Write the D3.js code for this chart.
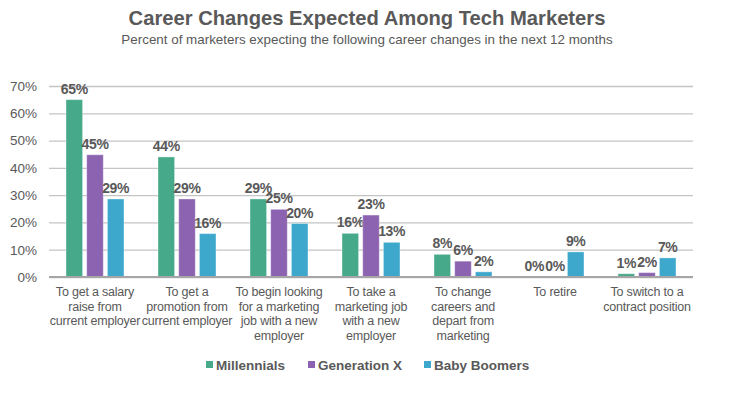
<!DOCTYPE html>
<html><head><meta charset="utf-8">
<script src="https://cdn.jsdelivr.net/npm/d3@7"></script>
<style>body{margin:0;background:#fff;}svg{display:block;font-family:"Liberation Sans",Arial,sans-serif;}</style>
</head><body><svg id="c" width="734" height="394"></svg>
<script>
const categories = [
  ["To get a salary","raise from","current employer"],
  ["To get a","promotion from","current employer"],
  ["To begin looking","for a marketing","job with a new","employer"],
  ["To take a","marketing job","with a new","employer"],
  ["To change","careers and","depart from","marketing"],
  ["To retire"],
  ["To switch to a","contract position"]
];
const seriesNames = ["Millennials","Generation X","Baby Boomers"];
const millennials = [65, 44, 28.6, 16, 8.3, 0, 1.2];
const generationX = [44.8, 28.6, 24.8, 22.7, 5.8, 0, 1.6];
const babyBoomers = [28.6, 15.9, 19.6, 12.7, 1.9, 9.2, 7];
const yTicks = [0,10,20,30,40,50,60,70];
const colors = ["#45a98a","#8b63b0","#3ea8cc"];

(function(){
const seriesValues = [millennials, generationX, babyBoomers];
const svg = d3.select("#c");
const grey = "#595959";
const pL = 49, pR = 693, pT = 86, pB = 277;

const x0 = d3.scaleBand().domain(d3.range(categories.length)).range([pL, pR]);
const bw = x0.bandwidth();
const x1 = d3.scaleBand().domain(seriesNames).range([bw*0.185, bw*0.815]).paddingInner(0.2);
const y = d3.scaleLinear().domain([0,70]).range([pB, pT]);

svg.append("text").attr("x",367).attr("y",25).attr("text-anchor","middle")
  .attr("font-size",20.2).attr("font-weight","bold").attr("fill",grey)
  .text("Career Changes Expected Among Tech Marketers");
svg.append("text").attr("x",367).attr("y",44).attr("text-anchor","middle")
  .attr("font-size",13.4).attr("fill",grey)
  .text("Percent of marketers expecting the following career changes in the next 12 months");

const yAxis = d3.axisLeft(y).tickValues(yTicks).tickFormat(d=>d+"%").tickSize(-(pR-pL)).tickPadding(12);
const ga = svg.append("g").attr("transform",`translate(${pL},0)`).call(yAxis);
ga.select(".domain").remove();
ga.selectAll(".tick line").attr("stroke","#c4c4c4").attr("stroke-width",1.3);
ga.selectAll(".tick text").attr("font-size",13.5).attr("fill",grey).attr("font-family","Liberation Sans, Arial, sans-serif");

const groups = svg.append("g").selectAll("g").data(categories).join("g")
  .attr("transform",(d,i)=>`translate(${x0(i)},0)`);
seriesNames.forEach((s,si)=>{
  groups.append("rect")
    .attr("x",x1(s)).attr("width",x1.bandwidth())
    .attr("y",(d,i)=>y(seriesValues[si][i]))
    .attr("height",(d,i)=>pB - y(seriesValues[si][i]))
    .attr("fill",colors[si]).attr("stroke","#ffffff").attr("stroke-opacity",0.35).attr("stroke-width",1);
  groups.append("text")
    .attr("x",x1(s)+x1.bandwidth()/2)
    .attr("y",(d,i)=>y(seriesValues[si][i]) - 6)
    .attr("text-anchor","middle").attr("font-size",14).attr("font-weight","bold").attr("fill",grey)
    .attr("letter-spacing",-0.3)
    .text((d,i)=>Math.round(seriesValues[si][i])+"%");
});

svg.append("line").attr("x1",pL).attr("x2",pR).attr("y1",pB).attr("y2",pB)
  .attr("stroke","#a6a6a6").attr("stroke-width",2);

groups.append("text").attr("text-anchor","middle").attr("font-size",12.5).attr("fill",grey)
  .attr("letter-spacing",-0.2)
  .each(function(d){
    const t = d3.select(this);
    d.forEach((line,li)=>{
      t.append("tspan").attr("x",bw/2).attr("y",296 + li*14.5).text(line);
    });
  });

const legendX = [206, 308, 424];
const lg = svg.append("g");
seriesNames.forEach((s,si)=>{
  lg.append("rect").attr("x",legendX[si]).attr("y",361).attr("width",7).attr("height",7).attr("fill",colors[si]);
  lg.append("text").attr("x",legendX[si]+10).attr("y",369.5).attr("font-size",13.5).attr("font-weight","bold")
    .attr("fill",grey).text(s);
});
})();
</script></body></html>
